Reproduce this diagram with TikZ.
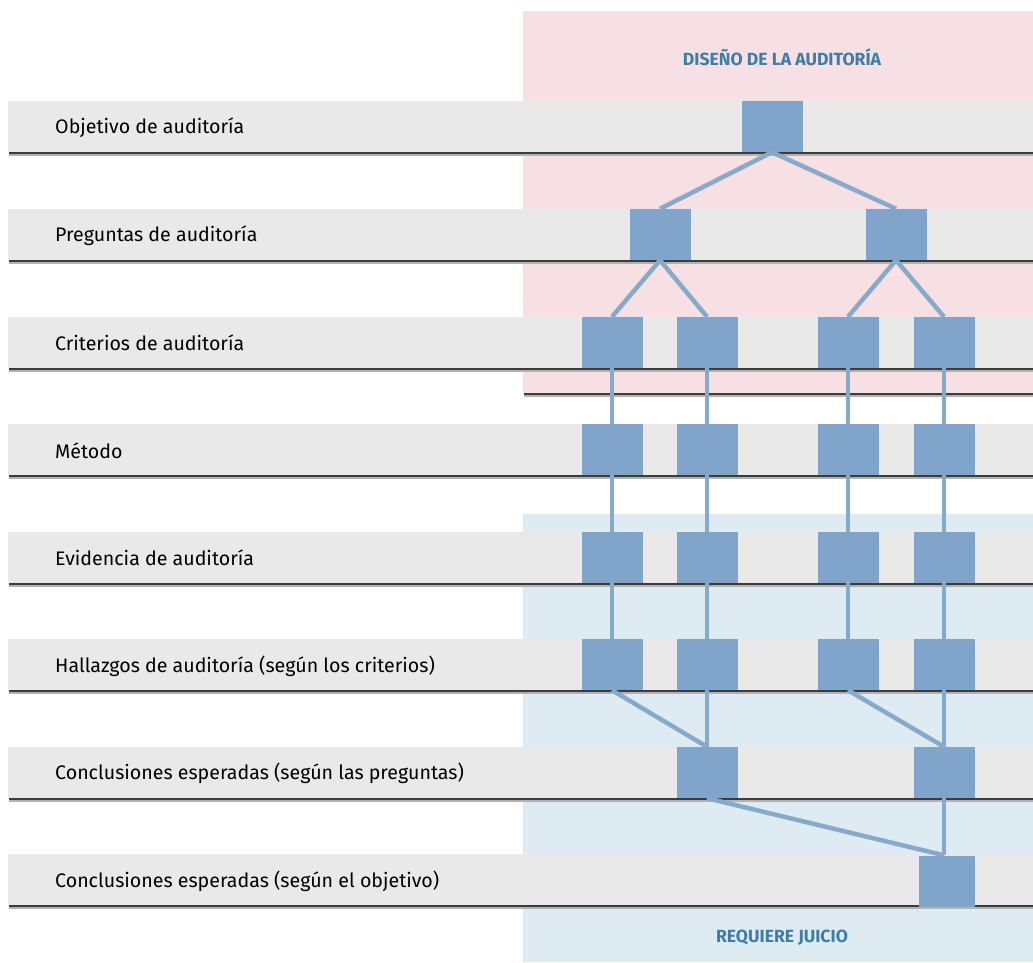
\documentclass[tikz,border=0pt]{standalone}
\usepackage{fontspec}
\setmainfont{Fira Sans}
\definecolor{bandgray}{HTML}{E9E9E9}
\definecolor{designpink}{HTML}{F6E0E4}
\definecolor{judgeblue}{HTML}{DFEBF3}
\definecolor{sqblue}{HTML}{80A4CA}
\definecolor{linkblue}{HTML}{86AAC9}
\definecolor{headblue}{HTML}{3D7DA6}
\definecolor{shadedark}{HTML}{3C3C3C}

\begin{document}
\begin{tikzpicture}[x=1pt,y=-1pt,
  band/.style={fill=bandgray},
  shade/.style={draw=shadedark,line width=2pt},
  softshade/.style={draw=black!30,line width=2pt},
  rowlabel/.style={anchor=west,inner sep=0pt,font=\fontsize{19.6}{22}\selectfont},
  sq/.style={fill=sqblue,minimum width=61pt,minimum height=51pt,inner sep=0pt},
  link/.style={draw=linkblue,line width=4.5pt},
  heading/.style={font=\fontsize{17.6}{20}\selectfont\bfseries,text=headblue}]

\useasboundingbox (0,0) rectangle (1033,962);

% The two zones
\fill[designpink] (523,11) rectangle (1033,393);
\draw[softshade] (524,396) -- (1033,396);
\draw[shade] (524,394) -- (1033,394);
\fill[judgeblue] (523,514) rectangle (1033,962);

% The bands
\fill[band] (8,101) rectangle (1033,152);
\fill[band] (8,209) rectangle (1033,260);
\fill[band] (8,317) rectangle (1033,368);
\fill[band] (8,424) rectangle (1033,475);
\fill[band] (8,532) rectangle (1033,583);
\fill[band] (8,639) rectangle (1033,690);
\fill[band] (8,747) rectangle (1033,798);
\fill[band] (8,854) rectangle (1033,905);

% The shadows under the bands
\draw[softshade] (9,155) -- (1033,155);
\draw[softshade] (9,263) -- (1033,263);
\draw[softshade] (9,371) -- (1033,371);
\draw[softshade] (9,478) -- (1033,478);
\draw[softshade] (9,586) -- (1033,586);
\draw[softshade] (9,693) -- (1033,693);
\draw[softshade] (9,801) -- (1033,801);
\draw[softshade] (9,908) -- (1033,908);
\draw[shade] (9,153) -- (1033,153);
\draw[shade] (9,261) -- (1033,261);
\draw[shade] (9,369) -- (1033,369);
\draw[shade] (9,476) -- (1033,476);
\draw[shade] (9,584) -- (1033,584);
\draw[shade] (9,691) -- (1033,691);
\draw[shade] (9,799) -- (1033,799);
\draw[shade] (9,906) -- (1033,906);

% The zone titles
\node[heading] (design) at (782,57) {DISEÑO DE LA AUDITORÍA};
\node[heading] (judge) at (782,938) {REQUIERE JUICIO};

% The row labels
\node[rowlabel] (lobj) at (55,128) {Objetivo de auditoría};
\node[rowlabel] (lpreg) at (55,236) {Preguntas de auditoría};
\node[rowlabel] (lcrit) at (55,343) {Criterios de auditoría};
\node[rowlabel] (lmet) at (55,451) {Método};
\node[rowlabel] (levid) at (55,558) {Evidencia de auditoría};
\node[rowlabel] (lhall) at (55,666) {Hallazgos de auditoría (según los criterios)};
\node[rowlabel] (lconc) at (55,773) {Conclusiones esperadas (según las preguntas)};
\node[rowlabel] (lfin) at (55,881) {Conclusiones esperadas (según el objetivo)};

% The squares
\node[sq] (obj) at (772,126.5) {};
\node[sq] (pregA) at (660,234.5) {};
\node[sq] (pregB) at (896,234.5) {};
\node[sq] (crit1) at (612,342.5) {};
\node[sq] (crit2) at (707,342.5) {};
\node[sq] (crit3) at (848,342.5) {};
\node[sq] (crit4) at (944,342.5) {};
\node[sq] (met1) at (612,449.5) {};
\node[sq] (met2) at (707,449.5) {};
\node[sq] (met3) at (848,449.5) {};
\node[sq] (met4) at (944,449.5) {};
\node[sq] (evid1) at (612,557.5) {};
\node[sq] (evid2) at (707,557.5) {};
\node[sq] (evid3) at (848,557.5) {};
\node[sq] (evid4) at (944,557.5) {};
\node[sq] (hall1) at (612,664.5) {};
\node[sq] (hall2) at (707,664.5) {};
\node[sq] (hall3) at (848,664.5) {};
\node[sq] (hall4) at (944,664.5) {};
\node[sq] (concA) at (707,772.5) {};
\node[sq] (concB) at (944,772.5) {};
\node[sq,minimum width=56pt] (concobj) at (947,881) {};

% The links
\draw[link] (obj.south) -- (pregA.north);
\draw[link] (obj.south) -- (pregB.north);
\draw[link] (pregA.south) -- (crit1.north);
\draw[link] (pregA.south) -- (crit2.north);
\draw[link] (pregB.south) -- (crit3.north);
\draw[link] (pregB.south) -- (crit4.north);
\draw[link] (crit1.south) -- (met1.north);
\draw[link] (crit2.south) -- (met2.north);
\draw[link] (crit3.south) -- (met3.north);
\draw[link] (crit4.south) -- (met4.north);
\draw[link] (met1.south) -- (evid1.north);
\draw[link] (met2.south) -- (evid2.north);
\draw[link] (met3.south) -- (evid3.north);
\draw[link] (met4.south) -- (evid4.north);
\draw[link] (evid1.south) -- (hall1.north);
\draw[link] (evid2.south) -- (hall2.north);
\draw[link] (evid3.south) -- (hall3.north);
\draw[link] (evid4.south) -- (hall4.north);
\draw[link] (hall1.south) -- (concA.north);
\draw[link] (hall2.south) -- (concA.north);
\draw[link] (hall3.south) -- (concB.north);
\draw[link] (hall4.south) -- (concB.north);
\draw[link] (concA.south) -- ([xshift=-3pt]concobj.north);
\draw[link] (concB.south) -- ([xshift=-3pt]concobj.north);

\end{tikzpicture}
\end{document}
